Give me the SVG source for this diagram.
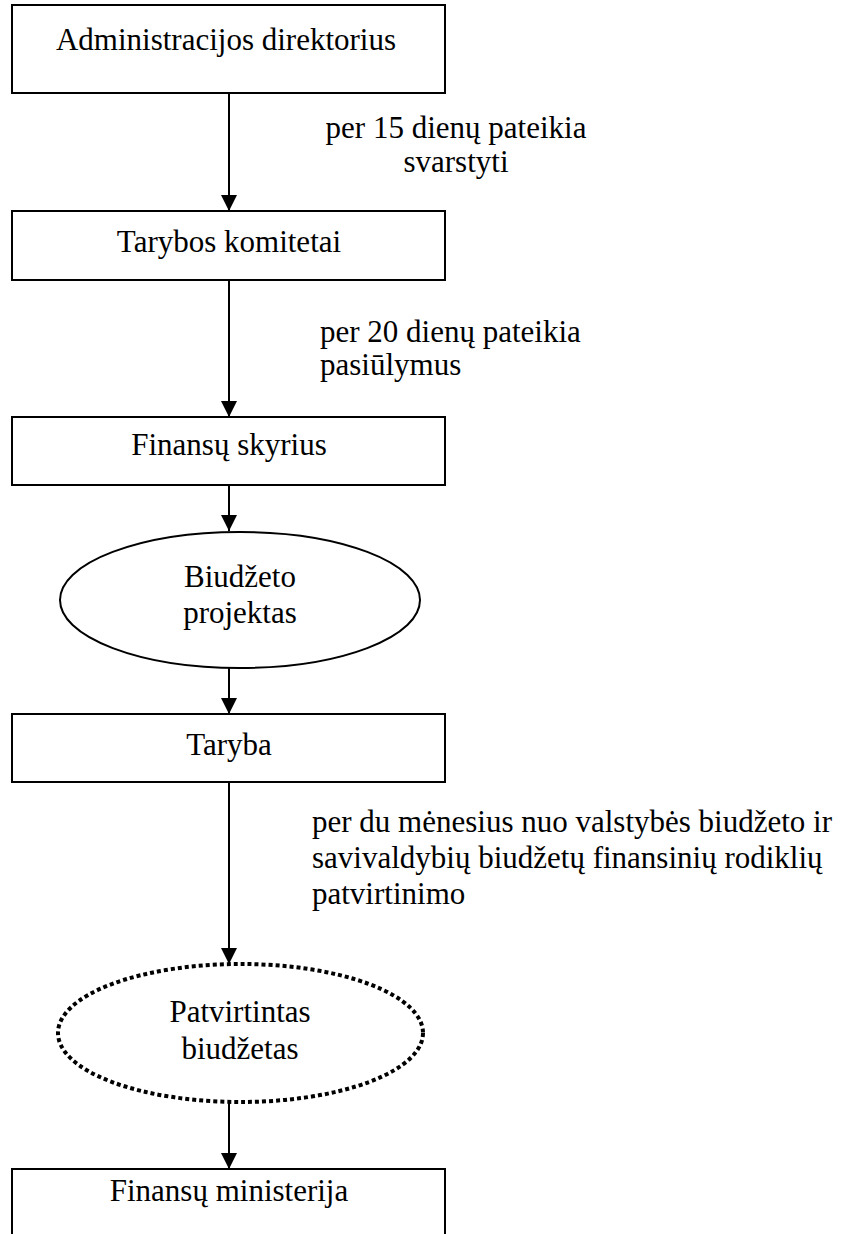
<svg xmlns="http://www.w3.org/2000/svg" width="864" height="1234" viewBox="0 0 864 1234">
<style>
  .box { fill: #fff; stroke: #000; stroke-width: 2; }
  .ell { fill: #fff; stroke: #000; stroke-width: 2; }
  .dot { fill: #fff; stroke: #000; stroke-width: 4; stroke-dasharray: 4 3; }
  .t { font-family: "Liberation Serif", "Times New Roman", serif; font-size: 31px; fill: #000; }
  .c { text-anchor: middle; }
  .edge { stroke: #000; stroke-width: 2; fill: none; marker-end: url(#ah); }
</style>
<defs>
  <marker id="ah" viewBox="0 0 16 16" refX="16" refY="8" markerWidth="16" markerHeight="16" markerUnits="userSpaceOnUse" orient="auto">
    <path d="M0,0 L16,8 L0,16 Z" fill="#000"/>
  </marker>
</defs>
<rect width="864" height="1234" fill="#fff"/>
<g id="connectors">
  <line class="edge" x1="229" y1="94" x2="229" y2="211"/>
  <line class="edge" x1="229" y1="281" x2="229" y2="417"/>
  <line class="edge" x1="229" y1="486" x2="229" y2="531"/>
  <line class="edge" x1="229" y1="668" x2="229" y2="714"/>
  <line class="edge" x1="229" y1="783" x2="229" y2="964"/>
  <line class="edge" x1="229" y1="1102" x2="229" y2="1169"/>
  <text class="t c" x="456" y="138">per 15 dienų pateikia</text>
  <text class="t c" x="456" y="172">svarstyti</text>
  <text class="t" x="320" y="342">per 20 dienų pateikia</text>
  <text class="t" x="320" y="375">pasiūlymus</text>
  <text class="t" x="312" y="832">per du mėnesius nuo valstybės biudžeto ir</text>
  <text class="t" x="312" y="868">savivaldybių biudžetų finansinių rodiklių</text>
  <text class="t" x="312" y="904">patvirtinimo</text>
</g>
<g id="n1">
  <rect class="box" x="12" y="5" width="433" height="88"/>
  <text class="t c" x="226" y="50">Administracijos direktorius</text>
</g>
<g id="n2">
  <rect class="box" x="12" y="211" width="433" height="69"/>
  <text class="t c" x="229" y="252">Tarybos komitetai</text>
</g>
<g id="n3">
  <rect class="box" x="12" y="417" width="433" height="68"/>
  <text class="t c" x="229" y="455">Finansų skyrius</text>
</g>
<g id="n4">
  <ellipse class="ell" cx="240" cy="600" rx="180" ry="68"/>
  <text class="t c" x="240" y="587">Biudžeto</text>
  <text class="t c" x="240" y="623">projektas</text>
</g>
<g id="n5">
  <rect class="box" x="12" y="714" width="433" height="68"/>
  <text class="t c" x="229" y="755">Taryba</text>
</g>
<g id="n6">
  <ellipse class="dot" cx="240.5" cy="1033" rx="182.5" ry="69"/>
  <text class="t c" x="240" y="1022">Patvirtintas</text>
  <text class="t c" x="240" y="1059">biudžetas</text>
</g>
<g id="n7">
  <rect class="box" x="12" y="1169" width="433" height="80"/>
  <text class="t c" x="229" y="1201">Finansų ministerija</text>
</g>
</svg>
